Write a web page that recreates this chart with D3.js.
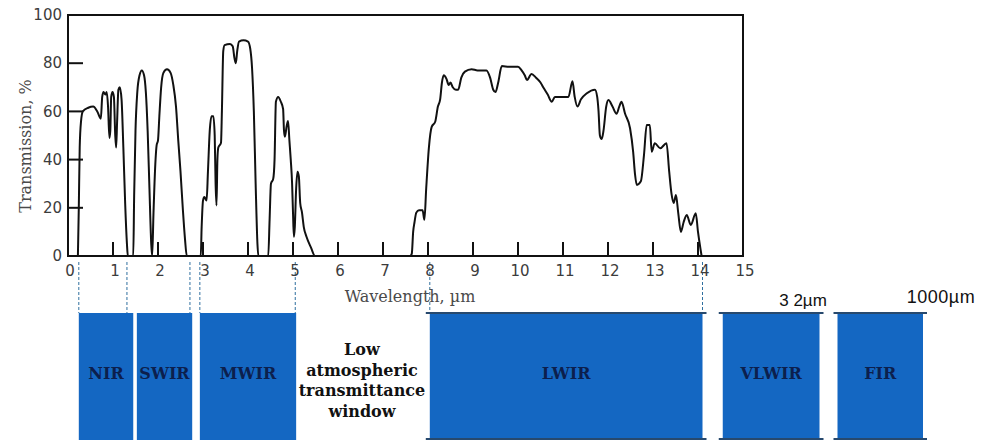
<!DOCTYPE html>
<html>
<head>
<meta charset="utf-8">
<script src="https://cdn.jsdelivr.net/npm/d3@7"></script>
<style>
  body { margin: 0; background: #fff; }
  svg { display: block; }
</style>
</head>
<body>
<svg id="chart" width="982" height="440"></svg>
<script>
// transmission curve (wavelength in µm, transmission in %)
var wavelength = [
    0.22, 0.24, 0.26, 0.29, 0.33, 0.45, 0.56, 0.65, 0.73, 0.76, 0.79, 0.83, 0.86, 0.89, 0.92, 0.94,
    0.96, 0.99, 1.02, 1.05, 1.07, 1.09, 1.12, 1.15, 1.19, 1.23, 1.27, 1.31, 1.33,
    1.45, 1.47, 1.50, 1.54, 1.59, 1.64, 1.69, 1.73, 1.77, 1.81, 1.85, 1.87,
    1.90, 1.94, 1.97, 2.00, 2.03, 2.07, 2.12, 2.20, 2.28, 2.34, 2.40, 2.45, 2.50, 2.55, 2.60, 2.64,
    2.95, 2.97, 3.00, 3.03, 3.08, 3.11, 3.15, 3.19, 3.23, 3.26, 3.28, 3.30, 3.32, 3.34, 3.40, 3.42,
    3.45, 3.48, 3.60, 3.66, 3.70, 3.73, 3.76, 3.80, 3.90, 4.00, 4.05, 4.09, 4.13, 4.17, 4.21, 4.23,
    4.45, 4.48, 4.51, 4.56, 4.59, 4.62, 4.67, 4.73, 4.78, 4.80, 4.82, 4.86, 4.89, 4.92, 4.95, 4.98,
    5.00, 5.02, 5.04, 5.07, 5.10, 5.13, 5.16, 5.20, 5.24, 5.30, 5.40, 5.49,
    7.60, 7.64, 7.67, 7.70, 7.74, 7.80, 7.88, 7.92, 7.96, 8.02, 8.08, 8.16, 8.22, 8.27, 8.31, 8.35,
    8.41, 8.46, 8.50, 8.55, 8.62, 8.67, 8.74, 8.82, 8.97, 9.10, 9.30, 9.38, 9.45, 9.50, 9.56, 9.64,
    9.80, 10.00, 10.08, 10.15, 10.20, 10.30, 10.40, 10.50, 10.56, 10.66, 10.75, 10.82, 11.12, 11.21,
    11.26, 11.32, 11.40, 11.53, 11.71, 11.76, 11.79, 11.82, 11.86, 11.90, 11.96, 12.01, 12.10, 12.19,
    12.25, 12.30, 12.38, 12.49, 12.56, 12.60, 12.64, 12.73, 12.80, 12.86, 12.93, 12.97, 13.04, 13.16,
    13.30, 13.36, 13.41, 13.46, 13.51, 13.56, 13.62, 13.68, 13.75, 13.84, 13.95, 14.00, 14.08
];
var transmission = [
    0, 20, 45, 56, 60, 61.5, 62, 60, 57, 66, 68, 67, 68, 62, 49, 52,
    66, 68, 66, 50, 45, 55, 69, 70, 65, 45, 22, 5, 0,
    0, 25, 52, 68, 75, 77, 75, 68, 52, 28, 5, 0,
    18, 38, 46, 48, 58, 70, 76, 77.5, 76, 71, 62, 48, 35, 20, 7, 0,
    0, 12, 23, 24.5, 23, 35, 52, 58, 58, 50, 30, 21, 40, 45, 47, 60,
    85, 87.5, 88, 87, 82, 80, 85, 89, 89.5, 89, 86, 78, 60, 30, 5, 0,
    0, 15, 30, 32, 40, 64, 66, 64, 61, 52, 49.5, 54, 56, 48, 40, 30,
    18, 8, 12, 28, 35, 33, 22, 18, 12, 8, 3.5, 0,
    0, 1, 10, 14, 18, 19, 19, 15, 28, 45, 53.5, 55.7, 62, 65, 72, 75,
    73.5, 71, 72, 70, 69, 69, 74, 76.5, 77.5, 77, 77, 74, 69, 68, 72, 78.8,
    78.5, 78.5, 77, 75, 73, 75.5, 74, 72, 70, 67, 64, 66, 66, 72.5,
    66, 62, 65, 67.5, 69, 66, 60, 50, 48.5, 52, 62, 64.7, 62, 59,
    62, 64, 59, 53, 43, 34, 29.5, 31, 42, 54.4, 54.4, 43.3, 46.8, 44.7,
    46.8, 35, 26, 22, 25.3, 18, 10, 14, 17, 12.9, 17.7, 10, 0
];

var xTicks = [0, 1, 2, 3, 4, 5, 6, 7, 8, 9, 10, 11, 12, 13, 14, 15];
var yTicks = [0, 20, 40, 60, 80, 100];

// infrared bands, drawn along the wavelength axis
var bandNames = ["NIR", "SWIR", "MWIR", "LWIR", "VLWIR", "FIR"];
var bandStart = [0.24, 1.53, 2.93, 8.04, 14.55, 17.1];
var bandEnd = [1.45, 2.76, 5.07, 14.1, 16.7, 19.0];
var boundaries = [0.24, 1.31, 2.71, 2.93, 5.05, 8.04, 14.1];
var gapText = ["Low", "atmospheric", "transmittance", "window"];
var edgeLabels = ["3 2µm", "1000µm"];

var svg = d3.select("#chart");
var plotLeft = 68, plotRight = 743, plotTop = 15, plotBottom = 256;

var x = d3.scaleLinear().domain([0, 15]).range([plotLeft, plotRight]);
var y = d3.scaleLinear().domain([0, 100]).range([plotBottom, plotTop]);

// dashed guides from the axis down to the band boxes
svg.append("g")
    .selectAll("line")
    .data(boundaries)
    .join("line")
    .attr("x1", d => x(d)).attr("x2", d => x(d))
    .attr("y1", 262).attr("y2", 313)
    .attr("stroke", "#2f6f9f")
    .attr("stroke-width", 1)
    .attr("stroke-dasharray", "3,2");

// band boxes
var bands = bandNames.map((n, i) => ({ name: n, x0: bandStart[i], x1: bandEnd[i] }));
var bandG = svg.append("g");
bandG.selectAll("rect")
    .data(bands)
    .join("rect")
    .attr("x", d => x(d.x0))
    .attr("y", 313)
    .attr("width", d => x(d.x1) - x(d.x0))
    .attr("height", 127)
    .attr("fill", "#1467c2");

// broken edge marks on the long-wave boxes
bands.slice(3).forEach(d => {
    [313, 439].forEach(yy => {
        bandG.append("line")
            .attr("x1", x(d.x0) - 4).attr("x2", x(d.x1) + 4)
            .attr("y1", yy).attr("y2", yy)
            .attr("stroke", "#27496e")
            .attr("stroke-width", 2);
    });
});

bandG.selectAll("text")
    .data(bands)
    .join("text")
    .attr("x", d => (x(d.x0) + x(d.x1)) / 2)
    .attr("y", 379)
    .attr("text-anchor", "middle")
    .attr("font-family", "'DejaVu Serif', serif")
    .attr("font-weight", "bold")
    .attr("font-size", 16)
    .attr("fill", "#0c1f4d")
    .text(d => d.name);

// label for the gap between MWIR and LWIR
var gapX = (x(bandEnd[2]) + x(bandStart[3])) / 2 - 1;
svg.append("g")
    .selectAll("text")
    .data(gapText)
    .join("text")
    .attr("x", gapX)
    .attr("y", (d, i) => 355 + i * 20.7)
    .attr("text-anchor", "middle")
    .attr("font-family", "'DejaVu Serif', serif")
    .attr("font-weight", "bold")
    .attr("font-size", 16)
    .attr("fill", "#111")
    .text(d => d);

svg.append("text")
    .attr("x", 803).attr("y", 306)
    .attr("text-anchor", "middle")
    .attr("font-family", "'Liberation Sans', Arial, sans-serif")
    .attr("font-size", 17)
    .attr("fill", "#111")
    .text(edgeLabels[0]);

svg.append("text")
    .attr("x", 941).attr("y", 303)
    .attr("text-anchor", "middle")
    .attr("font-family", "'Liberation Sans', Arial, sans-serif")
    .attr("font-size", 18)
    .attr("letter-spacing", "0.5px")
    .attr("fill", "#111")
    .text(edgeLabels[1]);

// transmission curve
var pts = wavelength.map((w, i) => ({ w: w, t: transmission[i] }));
var line = d3.line()
    .x(d => x(d.w))
    .y(d => y(d.t))
    .curve(d3.curveMonotoneX);

svg.append("path")
    .datum(pts)
    .attr("fill", "none")
    .attr("stroke", "#111")
    .attr("stroke-width", 2)
    .attr("stroke-linejoin", "round")
    .attr("d", line);

// frame
svg.append("rect")
    .attr("x", plotLeft).attr("y", plotTop)
    .attr("width", plotRight - plotLeft).attr("height", plotBottom - plotTop)
    .attr("fill", "none")
    .attr("stroke", "#111")
    .attr("stroke-width", 2);

// inner ticks
svg.append("g")
    .selectAll("line")
    .data(xTicks.slice(1, -1))
    .join("line")
    .attr("x1", d => x(d)).attr("x2", d => x(d))
    .attr("y1", plotBottom).attr("y2", plotBottom - 14)
    .attr("stroke", "#111").attr("stroke-width", 2);

svg.append("g")
    .selectAll("line")
    .data(yTicks.slice(1, -1))
    .join("line")
    .attr("x1", plotLeft).attr("x2", plotLeft + 15)
    .attr("y1", d => y(d)).attr("y2", d => y(d))
    .attr("stroke", "#111").attr("stroke-width", 2);

// tick labels
svg.append("g")
    .selectAll("text")
    .data(xTicks)
    .join("text")
    .attr("x", d => x(d) + 2)
    .attr("y", 276)
    .attr("text-anchor", "middle")
    .attr("font-family", "'DejaVu Sans', Verdana, sans-serif")
    .attr("font-size", 15)
    .attr("fill", "#3c3c3c")
    .text(d => d);

svg.append("g")
    .selectAll("text")
    .data(yTicks)
    .join("text")
    .attr("x", plotLeft - 6)
    .attr("y", d => y(d))
    .attr("dy", "0.35em")
    .attr("text-anchor", "end")
    .attr("font-family", "'DejaVu Sans', Verdana, sans-serif")
    .attr("font-size", 15)
    .attr("fill", "#3c3c3c")
    .text(d => d);

// axis titles
svg.append("text")
    .attr("x", 410).attr("y", 302)
    .attr("text-anchor", "middle")
    .attr("font-family", "'DejaVu Serif', serif")
    .attr("font-size", 16)
    .attr("fill", "#4a4a4a")
    .text("Wavelength, µm");

svg.append("text")
    .attr("transform", "translate(31,146) rotate(-90)")
    .attr("text-anchor", "middle")
    .attr("font-family", "'DejaVu Serif', serif")
    .attr("font-size", 16)
    .attr("fill", "#4a4a4a")
    .text("Transmission, %");
</script>
</body>
</html>
